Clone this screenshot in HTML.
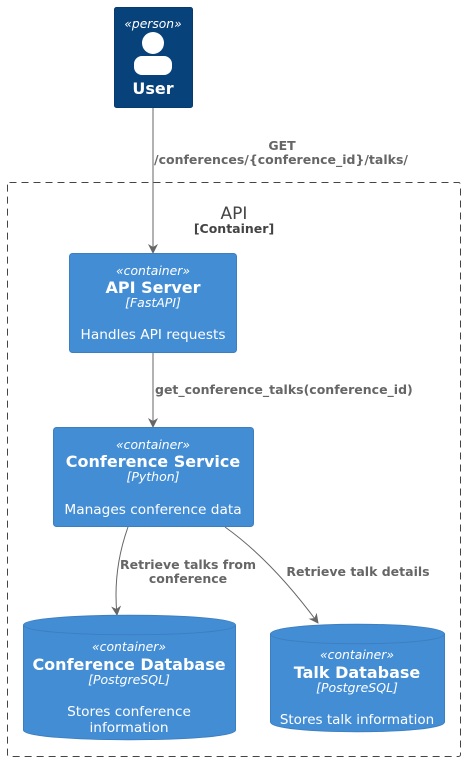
<!DOCTYPE html>
<html><head><meta charset="utf-8"><style>
html,body{margin:0;padding:0;background:#fff;}
svg{display:block;font-family:"DejaVu Sans","Liberation Sans",sans-serif;}
</style></head><body>
<svg width="465" height="761" viewBox="0 0 465 761" xmlns="http://www.w3.org/2000/svg">
<defs>
<marker id="ah" markerWidth="10" markerHeight="10" refX="9" refY="5" orient="auto" markerUnits="userSpaceOnUse">
<path d="M0,0 L10,5 L0,10 L3,5 Z" fill="#666"/>
</marker>
</defs>
<rect x="7.5" y="182.5" width="453" height="574" rx="2" fill="none" stroke="#444" stroke-dasharray="7,5"/>
<text x="234" y="219" text-anchor="middle" font-size="17" fill="#444">API</text>
<text x="234" y="233" text-anchor="middle" font-size="12.5" font-weight="bold" fill="#444">[Container]</text>

<rect x="114.5" y="7.5" width="78" height="100" rx="2" fill="#08427B" stroke="#073B6F"/>
<text x="153" y="28" text-anchor="middle" font-size="12.3" font-style="italic" fill="#fff">«person»</text>
<circle cx="153" cy="43" r="11" fill="#fff"/>
<rect x="134" y="56" width="38" height="19" rx="8" fill="#fff"/>
<text x="153" y="94" text-anchor="middle" font-size="16" font-weight="bold" fill="#fff">User</text>

<line x1="153" y1="108" x2="153" y2="253" stroke="#666" marker-end="url(#ah)"/>
<text x="282" y="150" text-anchor="middle" font-size="12.5" font-weight="bold" fill="#666">GET</text>
<text x="281" y="164" text-anchor="middle" font-size="12.5" font-weight="bold" fill="#666">/conferences/{conference_id}/talks/</text>

<line x1="153" y1="353" x2="153" y2="427" stroke="#666" marker-end="url(#ah)"/>
<text x="155" y="394" font-size="12.5" font-weight="bold" fill="#666">get_conference_talks(conference_id)</text>

<path d="M128,527 C118,555 114,585 117,615" fill="none" stroke="#666" marker-end="url(#ah)"/>
<text x="188" y="569" text-anchor="middle" font-size="12.5" font-weight="bold" fill="#666">Retrieve talks from</text>
<text x="188" y="583" text-anchor="middle" font-size="12.5" font-weight="bold" fill="#666">conference</text>

<path d="M225,527 C260,552 290,585 318,623" fill="none" stroke="#666" marker-end="url(#ah)"/>
<text x="358" y="576" text-anchor="middle" font-size="12.5" font-weight="bold" fill="#666">Retrieve talk details</text>

<rect x="69.5" y="253.5" width="167" height="99" rx="3" fill="#438DD5" stroke="#3C7FC0"/>
<text x="153" y="275" text-anchor="middle" font-size="12.4" font-style="italic" fill="#fff">«container»</text>
<text x="153" y="293" text-anchor="middle" font-size="16" font-weight="bold" fill="#fff">API Server</text>
<text x="153" y="307" text-anchor="middle" font-size="12.5" font-style="italic" fill="#fff">[FastAPI]</text>
<text x="153" y="339" text-anchor="middle" font-size="13.7" fill="#fff">Handles API requests</text>

<rect x="53.5" y="427.5" width="200" height="99" rx="3" fill="#438DD5" stroke="#3C7FC0"/>
<text x="153" y="449" text-anchor="middle" font-size="12.4" font-style="italic" fill="#fff">«container»</text>
<text x="153" y="467" text-anchor="middle" font-size="16" font-weight="bold" fill="#fff">Conference Service</text>
<text x="153" y="481" text-anchor="middle" font-size="12.5" font-style="italic" fill="#fff">[Python]</text>
<text x="153" y="514" text-anchor="middle" font-size="13.7" fill="#fff">Manages conference data</text>

<path d="M23.5,625 C23.5,612 235.5,612 235.5,625 L235.5,730 C235.5,743 23.5,743 23.5,730 Z" fill="#438DD5" stroke="#3C7FC0"/>
<path d="M23.5,625 C23.5,638 235.5,638 235.5,625" fill="none" stroke="#3C7FC0"/>
<text x="129" y="651" text-anchor="middle" font-size="12.4" font-style="italic" fill="#fff">«container»</text>
<text x="129" y="670" text-anchor="middle" font-size="16" font-weight="bold" fill="#fff">Conference Database</text>
<text x="129" y="684" text-anchor="middle" font-size="12.5" font-style="italic" fill="#fff">[PostgreSQL]</text>
<text x="129" y="716" text-anchor="middle" font-size="13.7" fill="#fff">Stores conference</text>
<text x="129" y="732" text-anchor="middle" font-size="13.7" fill="#fff">information</text>

<path d="M270.5,634 C270.5,621 444.5,621 444.5,634 L444.5,722 C444.5,735 270.5,735 270.5,722 Z" fill="#438DD5" stroke="#3C7FC0"/>
<path d="M270.5,634 C270.5,647 444.5,647 444.5,634" fill="none" stroke="#3C7FC0"/>
<text x="357" y="659" text-anchor="middle" font-size="12.4" font-style="italic" fill="#fff">«container»</text>
<text x="357" y="678" text-anchor="middle" font-size="16" font-weight="bold" fill="#fff">Talk Database</text>
<text x="357" y="692" text-anchor="middle" font-size="12.5" font-style="italic" fill="#fff">[PostgreSQL]</text>
<text x="357" y="724" text-anchor="middle" font-size="13.5" fill="#fff">Stores talk information</text>
</svg>
</body></html>
